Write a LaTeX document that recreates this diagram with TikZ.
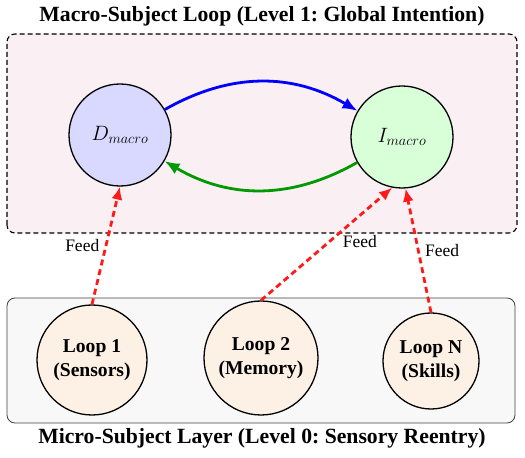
\documentclass[tikz,border=0pt]{standalone}
\usepackage{fontspec}
\setmainfont{Liberation Serif}
\usepackage{tikz}
\usetikzlibrary{positioning,arrows.meta}
\definecolor{macrobg}{HTML}{FAF0F3}
\definecolor{microbg}{HTML}{F8F8F8}
\definecolor{loopfill}{HTML}{FDF0E4}
\definecolor{feedred}{HTML}{FF1A1A}
\frenchspacing
\begin{document}
\begin{tikzpicture}[x=1pt, y=1pt, >=Latex,
    macro/.style={circle, draw, line width=1.3pt, minimum size=102pt, font=\fontsize{22}{26}\selectfont},
    micro/.style={circle, draw, line width=1.3pt, fill=loopfill, align=center, font=\fontsize{19.6}{23.5}\selectfont\bfseries},
    feed/.style={draw=feedred, line width=2.8pt, dash pattern=on 6pt off 4pt, -{Latex[length=13pt,width=11pt]}},
    feedlbl/.style={font=\fontsize{17.5}{20}\selectfont, text=black},
    layertitle/.style={font=\fontsize{21.7}{26}\selectfont\bfseries}]
    \useasboundingbox (0,0) rectangle (525,458);
    % layers
    \draw[dashed, dash pattern=on 5pt off 3pt, line width=1.1pt, rounded corners=8pt, fill=macrobg] (7,225) rectangle (517,424);
    \draw[line width=0.8pt, draw=black!75, rounded corners=8pt, fill=microbg] (7,35) rectangle (515,160);
    \node[layertitle] (top) at (262,442) {Macro-Subject Loop (Level 1: Global Intention)};
    \node[layertitle] (bottom) at (262,20) {Micro-Subject Layer (Level 0: Sensory Reentry)};
    % macro loop
    \node[macro, fill=blue!15] (D) at (120,323) {$D_{macro}$};
    \node[macro, fill=green!15] (I) at (402,321) {$I_{macro}$};
    \draw[->, blue, line width=2.8pt, >={Latex[length=15pt,width=12pt]}] (D) to[bend left=30] (I);
    \draw[->, green!60!black, line width=2.8pt, >={Latex[length=15pt,width=12pt]}] (I) to[bend left=30] (D);
    % micro loops
    \node[micro, minimum size=110pt] (l1) at (92,98) {Loop 1\\(Sensors)};
    \node[micro, minimum size=114pt] (l2) at (261,100) {Loop 2\\(Memory)};
    \node[micro, minimum size=96pt] (ln) at (431,97) {Loop N\\(Skills)};
    \draw[feed] (l1.north) -- node[feedlbl, left=2pt] (f1) {Feed} (D.south);
    \draw[feed] (l2.north) -- node[feedlbl, pos=0.52, anchor=west, xshift=9pt] (f2) {Feed} (I.259);
    \draw[feed] (ln.north) -- node[feedlbl, pos=0.5, right=2pt] (fn) {Feed} (I.274);
\end{tikzpicture}
\end{document}
